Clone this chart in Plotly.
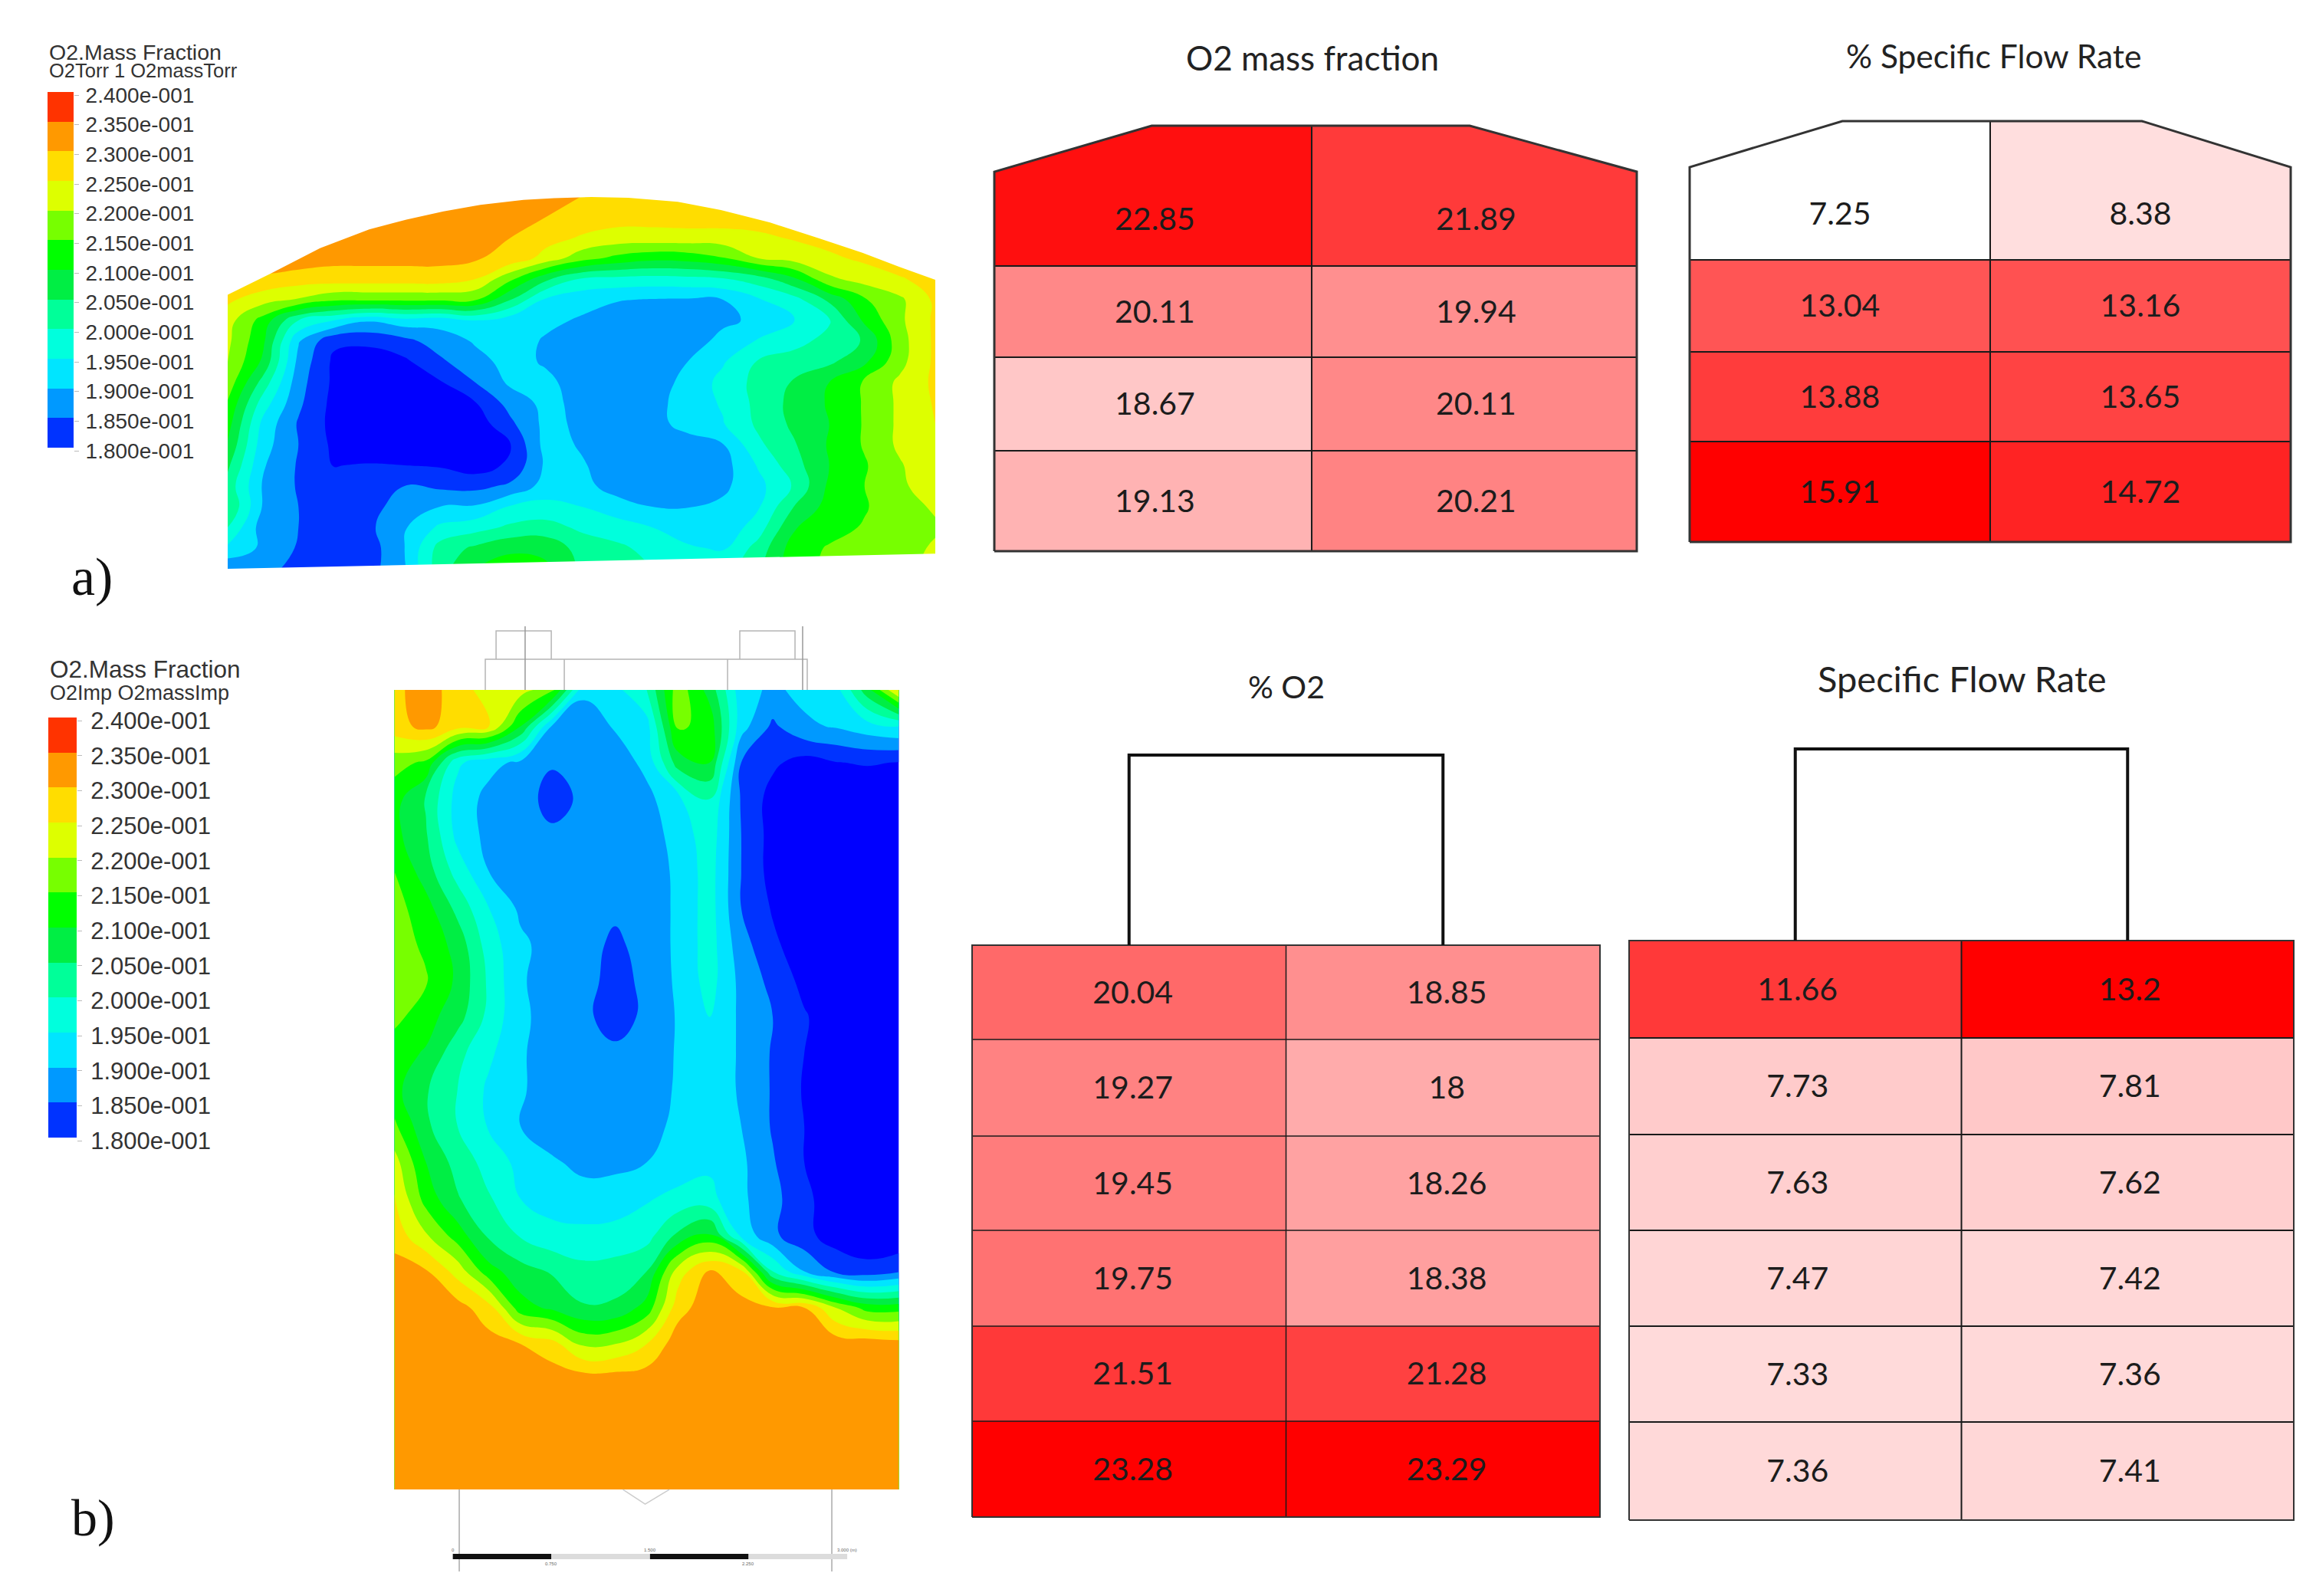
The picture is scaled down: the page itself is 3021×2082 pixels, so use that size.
import plotly.graph_objects as go

W, H = 3021, 2082

# ---------- data: oxygen contour panels (values in %) ----------
z_a = [
 [23.3,23.3,23.3,23.3,23.3,23.3,23.3,23.3,23.3,23.1,23.0,22.8,22.8,22.8,22.8,22.8,22.8,22.8,22.8,22.8,22.8],
 [23.3,23.3,23.3,23.3,23.3,23.3,23.3,23.3,23.3,23.0,22.8,22.7,22.7,22.75,22.75,22.75,22.75,22.8,22.8,22.8,22.8],
 [23.3,23.3,23.3,23.3,23.3,23.3,23.3,23.3,23.0,22.7,22.45,22.3,22.3,22.3,22.3,22.4,22.55,22.7,22.8,22.8,22.8],
 [23.3,23.3,23.3,23.15,23.15,23.15,23.15,23.05,22.85,22.3,21.7,21.35,21.15,21.2,21.45,22.0,22.2,22.4,22.6,22.8,22.8],
 [22.8,22.9,22.75,22.75,22.75,22.75,22.75,22.5,21.6,20.6,19.95,19.85,19.8,19.85,19.95,20.25,20.9,21.9,22.2,22.45,22.7],
 [22.6,22.2,21.95,21.6,21.6,21.6,21.6,21.55,20.5,19.4,19.15,19.03,18.97,18.95,19.0,19.45,19.8,20.6,21.45,21.9,22.6],
 [22.2,21.3,20.0,19.5,19.05,19.3,19.2,19.5,19.2,19.1,18.95,18.75,18.7,18.7,18.9,19.1,19.45,19.95,21.1,21.9,22.6],
 [22.1,21.1,19.05,18.1,18.1,18.35,18.75,19.05,19.2,18.95,18.7,18.6,18.6,18.75,19.15,19.55,19.85,20.15,20.55,21.8,22.6],
 [22.0,20.9,18.85,17.9,17.75,17.9,18.4,18.85,19.15,18.95,18.7,18.6,18.65,19.0,19.45,20.05,20.2,20.4,20.9,21.85,22.6],
 [21.8,20.3,18.7,17.9,17.6,17.65,17.95,18.5,19.1,19.1,18.8,18.65,18.75,19.15,19.65,20.17,20.55,21.0,21.57,22.1,22.6],
 [21.45,19.75,18.6,17.85,17.5,17.5,17.6,17.97,18.7,19.15,18.85,18.65,18.8,19.25,19.55,20.15,20.65,21.05,21.55,22.1,22.55],
 [21.2,19.35,18.45,17.85,17.45,17.4,17.5,17.7,18.4,19.15,18.9,18.7,18.8,19.2,19.47,20.1,20.6,21.0,21.55,22.1,22.5],
 [20.95,19.2,18.5,17.9,17.5,17.4,17.5,17.55,18.0,19.2,18.95,18.7,18.7,18.75,18.98,19.9,20.45,21.05,21.55,22.1,22.5],
 [20.6,19.05,18.45,17.98,18.05,18.0,17.95,17.75,18.1,19.1,19.05,18.75,18.6,18.6,18.8,19.55,20.3,21.0,21.45,21.95,22.4],
 [20.3,18.95,18.45,18.2,18.15,18.5,18.4,18.35,18.6,19.2,19.15,18.8,18.7,18.7,18.9,19.35,20.05,21.1,21.5,21.9,22.3],
 [20.5,18.95,18.5,18.2,18.35,18.7,19.0,19.05,19.55,19.65,19.5,19.2,19.0,18.98,19.1,19.45,20.5,21.2,21.45,21.85,22.05],
 [20.0,18.75,18.5,18.2,18.4,18.95,19.6,19.8,20.1,20.2,19.9,19.75,19.5,19.3,19.15,19.75,20.95,21.3,21.55,21.75,21.95],
 [19.4,18.9,18.45,18.2,18.25,19.0,20.2,20.6,20.9,20.85,20.3,20.1,19.85,19.55,19.45,20.2,21.25,21.55,21.75,21.85,22.05],
 [18.6,18.55,18.45,18.2,18.3,18.95,20.3,21.0,21.25,21.1,20.4,20.2,20.0,19.75,19.75,20.4,21.3,21.6,21.8,21.9,22.1],
]
z_b = [
 [22.8,23.4,22.6,22.4,22.2,21.7,19.1,19.35,20.0,21.8,20.8,19.2,18.9,19.15,19.3,20.8,22.6],
 [22.8,23.15,22.7,22.5,21.0,18.95,18.75,19.05,19.3,21.6,21.3,19.2,18.4,18.9,19.05,19.3,19.5],
 [21.7,21.4,19.6,19.15,18.9,18.55,18.6,18.7,19.15,20.75,21.0,18.5,18.1,17.8,17.98,18.05,17.98],
 [21.2,20.45,19.3,18.85,18.75,18.3,18.6,18.75,18.85,19.4,20.0,18.45,17.8,17.5,17.5,17.5,17.5],
 [21.15,20.55,19.35,18.85,18.7,18.6,18.65,18.7,18.75,19.2,19.8,18.5,17.8,17.5,17.5,17.5,17.5],
 [21.5,20.75,19.8,19.0,18.75,18.6,18.55,18.6,18.65,19.13,19.73,18.5,17.8,17.5,17.5,17.5,17.5],
 [21.7,21.2,20.35,19.5,18.9,18.7,18.6,18.55,18.6,19.13,19.73,18.5,17.95,17.6,17.5,17.5,17.5],
 [21.75,21.4,20.8,19.75,19.1,18.8,18.6,18.45,18.6,19.13,19.73,18.7,18.1,17.7,17.5,17.5,17.5],
 [21.7,21.55,20.9,19.9,19.05,18.8,18.65,18.35,18.6,19.1,19.7,18.85,18.35,17.85,17.6,17.5,17.5],
 [21.65,21.2,20.7,19.85,19.1,18.8,18.6,18.3,18.6,19.05,19.5,18.9,18.5,18.05,17.7,17.6,17.5],
 [21.2,20.95,20.15,19.6,19.05,18.8,18.65,18.6,18.7,19.05,19.25,18.95,18.45,18.0,17.7,17.6,17.5],
 [21.15,20.55,20.0,19.4,19.05,18.8,18.65,18.65,18.8,19.05,19.25,18.95,18.45,17.95,17.6,17.5,17.5],
 [21.6,20.6,20.0,19.45,19.0,18.8,18.75,18.7,18.85,19.1,19.25,19.0,18.45,18.0,17.6,17.5,17.5],
 [22.2,21.0,20.3,19.8,19.35,19.05,18.9,18.9,19.0,19.2,19.4,19.1,18.55,18.0,17.6,17.5,17.5],
 [22.55,21.3,20.55,20.05,19.5,19.3,19.15,19.2,19.45,19.65,19.65,19.1,18.65,18.15,17.65,17.6,17.5],
 [22.8,22.05,21.25,20.4,19.95,19.65,19.65,19.7,19.8,20.6,21.1,19.35,18.6,18.15,17.75,17.6,17.55],
 [23.2,23.05,22.3,21.2,20.7,20.45,20.15,20.2,20.5,22.25,23.05,22.6,20.0,19.0,18.4,18.2,18.45],
 [23.3,23.3,23.2,22.7,21.2,20.9,20.55,20.6,21.2,22.8,23.3,23.2,23.05,23.0,22.0,21.3,21.3],
 [23.3,23.3,23.3,23.2,23.0,22.7,21.9,22.0,22.5,23.3,23.3,23.3,23.3,23.3,23.3,23.3,23.2],
 [23.3,23.3,23.3,23.3,23.3,23.3,23.3,23.3,23.3,23.3,23.3,23.3,23.3,23.3,23.3,23.3,23.3],
 [23.3,23.3,23.3,23.3,23.3,23.3,23.3,23.3,23.3,23.3,23.3,23.3,23.3,23.3,23.3,23.3,23.3],
 [23.3,23.3,23.3,23.3,23.3,23.3,23.3,23.3,23.3,23.3,23.3,23.3,23.3,23.3,23.3,23.3,23.3],
 [23.3,23.3,23.3,23.3,23.3,23.3,23.3,23.3,23.3,23.3,23.3,23.3,23.3,23.3,23.3,23.3,23.3],
]
levels = [18.0,18.5,19.0,19.5,20.0,20.5,21.0,21.5,22.0,22.5,23.0,23.5,24.0]
level_labels = ["1.800e-001","1.850e-001","1.900e-001","1.950e-001","2.000e-001","2.050e-001","2.100e-001",
                "2.150e-001","2.200e-001","2.250e-001","2.300e-001","2.350e-001","2.400e-001"]
band_colors = ["#0000ff","#0033ff","#0099ff","#00e5ff","#00ffdd","#00ff99","#00ee44",
               "#00ff00","#77ff00","#ddff00","#ffdd00","#ff9900","#ff3300"]

# ---------- data: tables ----------
o2_a = [[22.85,21.89],[20.11,19.94],[18.67,20.11],[19.13,20.21]]
flow_a = [[7.25,8.38],[13.04,13.16],[13.88,13.65],[15.91,14.72]]
o2_b = [[20.04,18.85],[19.27,18],[19.45,18.26],[19.75,18.38],[21.51,21.28],[23.28,23.29]]
flow_b = [[11.66,13.2],[7.73,7.81],[7.63,7.62],[7.47,7.42],[7.33,7.36],[7.36,7.41]]

scale_marks = [0, 0.75, 1.5, 2.25, 3.0]
scale_labels = ["0", "0.750", "1.500", "2.250", "3.000 (m)"]

# ---------- layout helpers ----------
fig = go.Figure()
layout = dict(width=W, height=H, autosize=False, margin=dict(l=0, r=0, t=0, b=0, pad=0, autoexpand=False),
              paper_bgcolor="white", plot_bgcolor="rgba(0,0,0,0)", showlegend=False)
ax_n = [0]
AX_OFF = dict(visible=False, fixedrange=True)

def new_axes(px_x, px_y, xrange, yrange):
    ax_n[0] += 1
    n = ax_n[0]
    sx = "" if n == 1 else str(n)
    layout["xaxis" + sx] = dict(AX_OFF, domain=[px_x[0] / W, px_x[1] / W], range=xrange, anchor="y" + sx)
    layout["yaxis" + sx] = dict(AX_OFF, domain=[1 - px_y[1] / H, 1 - px_y[0] / H], range=yrange, anchor="x" + sx)
    return "x" + sx, "y" + sx

def legend_scale():
    out = []
    n = len(band_colors)
    for i, c in enumerate(band_colors):
        out += [[i / n, c], [(i + 1) / n, c]]
    return out

def contour_scale():
    # plotly spreads the scale over the contour range, one step per band
    n = len(band_colors)
    out = []
    for i, c in enumerate(band_colors):
        out += [[max(0, (i - 0.5) / n), c], [min(1, (i + 0.5) / n) if i < n - 1 else 1, c]]
    return out

def white_poly(xs, ys, xa, ya):
    fig.add_trace(go.Scatter(x=xs, y=ys, xaxis=xa, yaxis=ya, mode="lines", fill="toself",
                             fillcolor="white", line=dict(width=0), hoverinfo="skip"))

def contour(z, xa, ya):
    fig.add_trace(go.Contour(z=z, x=list(range(len(z[0]))), y=list(range(len(z))), xaxis=xa, yaxis=ya,
                             colorscale=contour_scale(), autocontour=False,
                             contours=dict(start=18, end=24, size=0.5, coloring="fill", showlines=False),
                             line=dict(width=0, smoothing=1.3), showscale=False, hoverinfo="skip"))

def legend(px_x, px_y, size, standoff, label_drop=4):
    unit = 6 / (px_y[1] - px_y[0])          # axis units per pixel
    pad = 12
    xa, ya = new_axes(px_x, (px_y[0] - pad, px_y[1] + pad), [0, 1], [18 - pad * unit, 24 + pad * unit])
    layout["yaxis" + ya[1:]].update(visible=True, side="right", showgrid=False, zeroline=False, showline=False,
        tickmode="array", tickvals=[l - label_drop * unit for l in levels], ticktext=level_labels,
        ticks="outside", ticklen=6, tickwidth=1, tickcolor="#bbbbbb", ticklabelstandoff=standoff,
        tickfont=dict(family="Liberation Sans", size=size, color="#333333"))
    fig.add_trace(go.Heatmap(z=[[l + 0.25] for l in levels[:-1]], x=[0, 1], y=levels, xaxis=xa, yaxis=ya,
                             colorscale=legend_scale(), zmin=17.5, zmax=24, showscale=False, hoverinfo="skip"))

PAD = 8

def table(values, px_x, top_px, rows_px, zmin, zmax, mid=1.0, roof=None, chimney=False, lw=2, box=3,
          text_dx=0, text_dy=4):
    unit = 2 / (px_x[1] - px_x[0])
    ux = unit * PAD
    xa, ya = new_axes((px_x[0] - PAD, px_x[1] + PAD), (top_px - PAD, rows_px[-1] + PAD),
                      [-ux, 2 + ux], [rows_px[-1] + PAD, top_px - PAD])
    edges = [top_px] + list(rows_px[1:]) if roof else list(rows_px)
    fig.add_trace(go.Heatmap(z=values, x=[0, mid, 2], y=edges, xaxis=xa, yaxis=ya, zmin=zmin, zmax=zmax,
                             colorscale=[[0, "#ffffff"], [1, "#ff0000"]], showscale=False, hoverinfo="skip"))
    if roof:
        x0, x1 = roof
        sh = rows_px[0]
        t2 = top_px - PAD
        white_poly([-ux, 0, x0, x0, -ux, -ux], [sh, sh, top_px, t2, t2, sh], xa, ya)
        white_poly([2 + ux, 2, x1, x1, 2 + ux, 2 + ux], [sh, sh, top_px, t2, t2, sh], xa, ya)
    grid_x, grid_y = [mid, mid, None], [top_px if roof else rows_px[0], rows_px[-1], None]
    for r in rows_px[1:-1]:
        grid_x += [0, 2, None]
        grid_y += [r, r, None]
    fig.add_trace(go.Scatter(x=grid_x, y=grid_y, xaxis=xa, yaxis=ya, mode="lines",
                             line=dict(color="#1a1a1a", width=lw), hoverinfo="skip"))
    if roof:
        ox = [0, 0, x0, x1, 2, 2, 0]
        oy = [rows_px[-1], rows_px[0], top_px, top_px, rows_px[0], rows_px[-1], rows_px[-1]]
    else:
        ox = [0, 0, 2, 2, 0]
        oy = [rows_px[-1], rows_px[0], rows_px[0], rows_px[-1], rows_px[-1]]
    fig.add_trace(go.Scatter(x=ox, y=oy, xaxis=xa, yaxis=ya, mode="lines",
                             line=dict(color="#333333", width=box), hoverinfo="skip"))
    if chimney:
        fig.add_trace(go.Scatter(x=[0.5, 0.5, 1.5, 1.5], y=[rows_px[0], top_px, top_px, rows_px[0]], xaxis=xa, yaxis=ya,
                                 mode="lines", line=dict(color="#111111", width=4), hoverinfo="skip"))
    tx, ty, tt = [], [], []
    for r, row in enumerate(values):
        for c, v in enumerate(row):
            tx.append(c + 0.5 + text_dx * unit)
            ty.append((rows_px[r] + rows_px[r + 1]) / 2 + text_dy)
            tt.append(f"{v:g}")
    fig.add_trace(go.Scatter(x=tx, y=ty, text=tt, xaxis=xa, yaxis=ya, mode="text", hoverinfo="skip",
                             textfont=dict(family="Lato", size=41, color="#1c1c1c")))

def note(text, px, py, size, family="Liberation Sans", color="#333333", anchor="left"):
    layout.setdefault("annotations", []).append(dict(
        text=text, x=px / W, y=1 - py / H, xref="paper", yref="paper", xanchor=anchor, yanchor="middle",
        showarrow=False, font=dict(family=family, size=size, color=color)))

# ---------- panel a ----------
xa, ya = new_axes((297, 1220), (248, 750), [0, 20], [18.296, -0.296])
contour(z_a, xa, ya)
dome_x = [0, 1.22, 2.61, 4.0, 5.05, 6.1, 7.14, 8.36, 9.23, 10.28, 11.32, 12.72, 13.94, 15.33, 16.72, 17.94, 18.99, 20, 20, 0, 0]
dome_y = [4.76, 3.73, 2.51, 1.6, 1.13, 0.73, 0.42, 0.18, 0.09, 0.04, 0.07, 0.27, 0.67, 1.27, 2.04, 2.73, 3.42, 4.04, -0.296, -0.296, 4.76]
white_poly(dome_x, dome_y, xa, ya)
white_poly([0, 20, 20, 0], [18, 17.27, 18.296, 18.296], xa, ya)
legend((62, 96), (120, 584), 28, 3)
note("O2.Mass Fraction", 62, 68, 28.5)
note("O2Torr 1 O2massTorr", 62, 92, 25.5)
note("a)", 91, 752, 70, family="Liberation Serif", color="#111111")

# ---------- panel b ----------
xa, ya = new_axes((514.5, 1172.5), (900, 1943), [0, 16], [22, 0])
contour(z_b, xa, ya)
legend((63, 100), (936, 1484), 31, 5)
note("O2.Mass Fraction", 63, 873, 31.5)
note("O2Imp O2massImp", 63, 904, 27)
note("b)", 91, 1980, 68, family="Liberation Serif", color="#111111")

# drawing of the furnace around panel b, in metres
sx, sy = new_axes((514, 1173), (800, 2070), [-0.447, 3.396], [6.822, -0.583])
def sk(xs, ys, color="#b5b5b5", width=1.5):
    fig.add_trace(go.Scatter(x=xs, y=ys, xaxis=sx, yaxis=sy, mode="lines", hoverinfo="skip",
                             line=dict(color=color, width=width)))
sk([0.329, 0.329, 0.749, 0.749], [-0.233, -0.449, -0.449, -0.233])
sk([2.183, 2.183, 2.603, 2.603], [-0.233, -0.449, -0.449, -0.233])
sk([0.247, 0.247, 2.696, 2.696], [0, -0.233, -0.233, 0])
sk([0.848, 0.848], [0, -0.233])
sk([2.09, 2.09], [0, -0.233])
sk([0.55, 0.55], [0, -0.484], color="#999999")
sk([2.661, 2.661], [0, -0.484], color="#999999")
sk([0.049, 0.049], [6.082, 6.706], color="#aaaaaa")
sk([2.883, 2.883], [6.082, 6.706], color="#aaaaaa")
sk([1.294, 1.463, 1.647], [6.082, 6.193, 6.082], color="#cccccc")
for i in range(len(scale_marks) - 1):
    sk(scale_marks[i:i + 2], [6.592, 6.592], color="#111111" if i % 2 == 0 else "#dcdcdc", width=7)
for i, (m, lab) in enumerate(zip(scale_marks, scale_labels)):
    layout.setdefault("annotations", []).append(dict(
        text=lab, x=m, y=6.592, xref=sx, yref=sy, yshift=9 if i % 2 == 0 else -9, yanchor="middle",
        xanchor="center", showarrow=False, font=dict(family="Liberation Sans", size=6, color="#666666")))

# ---------- tables ----------
table(o2_a, (1297, 2135), 164, [224, 347, 466, 588, 719], 17.4, 23.2, mid=0.988, roof=(0.49, 1.48))
table(flow_a, (2204, 2988), 158, [218, 339, 459, 576, 707], 7.25, 15.91, roof=(0.508, 1.505))
table(o2_b, (1268, 2087), 985, [1233, 1356, 1482, 1605, 1730, 1854, 1979], 15.4, 23.28, chimney=True, lw=1.5, box=2, text_dx=5)
table(flow_b, (2125, 2992), 977, [1227, 1354, 1480, 1605, 1730, 1855, 1983], 6.33, 13.2, chimney=True, lw=2, box=2, text_dx=3)

note("O2 mass fraction", 1712, 75, 44, family="Lato", color="#222222", anchor="center")
note("% Specific Flow Rate", 2600, 72, 42.5, family="Lato", color="#222222", anchor="center")
note("% O2", 1678, 896, 41, family="Lato", color="#222222", anchor="center")
note("Specific Flow Rate", 2559, 885, 47, family="Lato", color="#222222", anchor="center")

fig.update_layout(**layout)
fig.write_html("out.html", post_script="document.body.style.margin='0';", config=dict(displayModeBar=False))
